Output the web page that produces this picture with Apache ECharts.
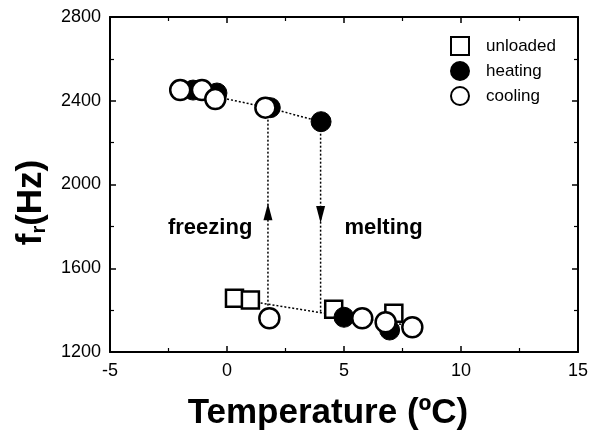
<!DOCTYPE html>
<html><head><meta charset="utf-8">
<script src="https://cdn.jsdelivr.net/npm/echarts@6/dist/echarts.min.js"></script>
<style>html,body{margin:0;padding:0;background:#fff}#c{width:589px;height:434px}</style>
</head><body><div id="c"></div>
<script>
const FONT = '"Liberation Sans", Arial, sans-serif';
// data: [temperature (°C), resonance frequency (Hz)]
const unloaded = [[0.32,1457],[1.0,1448],[4.56,1404],[7.13,1385]];
const heating  = [[-1.45,2451],[-0.43,2437],[1.85,2367],[4.02,2300],[5.0,1366],[6.95,1305]];
const cooling  = [[-2.0,2451],[-1.07,2451],[-0.5,2408],[1.64,2367],[1.81,1361],[5.78,1361],[6.78,1342],[7.92,1318]];
const guideTop    = [[-0.5,2420],[1.75,2367],[4.0,2300]];
const guideBottom = [[1.1,1440],[4.0,1388],[8.2,1320]];
const guideFreeze = [[1.75,2367],[1.75,1420]];
const guideMelt   = [[4.0,2300],[4.0,1388]];
const arrowUp   = [[1.75,1870]];
const arrowDown = [[4.0,1857]];
const labels = [{value:[-0.72,1792], name:'freezing'},{value:[6.69,1792], name:'melting'}];
const xTicks = {min:-5, max:15, interval:5};
const yTicks = {min:1200, max:2800, interval:400};

const chart = echarts.init(document.getElementById('c'));
const dotted = {color:'#000', width:1.5, type:[2,2], opacity:1};
const axisCommon = {
  axisLine:{show:true, onZero:false, lineStyle:{color:'#000', width:2}},
  axisTick:{show:true, inside:true, length:6, lineStyle:{color:'#000', width:1.5}},
  minorTick:{show:true, splitNumber:2, length:4, lineStyle:{color:'#000', width:1.2}},
  splitLine:{show:false}
};
function guide(d){return {type:'line', data:d, symbol:'none', lineStyle:dotted, silent:true, z:1};}
chart.setOption({
  animation:false,
  backgroundColor:'#fff',
  grid:{left:110, right:11, top:17, bottom:82, containLabel:false, outerBoundsMode:'none'},
  xAxis:[Object.assign({type:'value', min:xTicks.min, max:xTicks.max, interval:xTicks.interval,
      axisLabel:{color:'#000', fontSize:18, fontFamily:FONT, margin:10, formatter:v=>String(v)},
      name:'Temperature (ºC)', nameLocation:'middle', nameGap:44,
      nameTextStyle:{color:'#000', fontSize:35, fontWeight:'bold', fontFamily:FONT, padding:[0,32,0,0]}
    }, axisCommon),
    Object.assign({type:'value', position:'top', min:xTicks.min, max:xTicks.max, interval:xTicks.interval, axisLabel:{show:false}}, axisCommon)],
  yAxis:[Object.assign({type:'value', min:yTicks.min, max:yTicks.max, interval:yTicks.interval,
      axisLabel:{color:'#000', fontSize:18, fontFamily:FONT, margin:9, formatter:v=>String(v)},
      name:'{a|f}{b|r}{a|(Hz)}', nameLocation:'middle', nameGap:61, nameRotate:90,
      nameTextStyle:{color:'#000', fontFamily:FONT, padding:[0,36,0,0],
        rich:{a:{fontSize:35, fontWeight:'bold', fontFamily:FONT, color:'#000'},
              b:{fontSize:20, fontWeight:'bold', fontFamily:FONT, color:'#000', verticalAlign:'bottom', padding:[14,0,0,0]}}}
    }, axisCommon),
    Object.assign({type:'value', position:'right', min:yTicks.min, max:yTicks.max, interval:yTicks.interval, axisLabel:{show:false}}, axisCommon)],
  legend:{orient:'vertical', left:450, top:36, padding:0, itemWidth:18, itemHeight:18, itemGap:5,
    data:['unloaded','heating','cooling'],
    textStyle:{color:'#000', fontSize:17, fontFamily:FONT, padding:[0,0,0,12]}},
  series:[
    guide(guideTop), guide(guideBottom), guide(guideFreeze), guide(guideMelt),
    {type:'scatter', data:arrowUp, symbol:'triangle', symbolSize:[9,17], itemStyle:{color:'#000', opacity:1}, silent:true, z:2},
    {type:'scatter', data:arrowDown, symbol:'triangle', symbolSize:[9,17], symbolRotate:180, itemStyle:{color:'#000', opacity:1}, silent:true, z:2},
    {type:'scatter', data:labels, symbolSize:0, silent:true, itemStyle:{opacity:1},
      label:{show:true, position:'inside', formatter:p=>p.name, color:'#000', opacity:1, fontSize:22, fontWeight:'bold', fontFamily:FONT}},
    {name:'unloaded', type:'scatter', data:unloaded, symbol:'rect', symbolSize:17, z:3,
      itemStyle:{color:'#fff', borderColor:'#000', borderWidth:2.5, opacity:1}},
    {name:'heating', type:'scatter', data:heating, symbol:'circle', symbolSize:20, z:4,
      itemStyle:{color:'#000', borderColor:'#000', borderWidth:1, opacity:1}},
    {name:'cooling', type:'scatter', data:cooling, symbol:'circle', symbolSize:20, z:5,
      itemStyle:{color:'#fff', borderColor:'#000', borderWidth:2.5, opacity:1}}
  ]
});
</script></body></html>
